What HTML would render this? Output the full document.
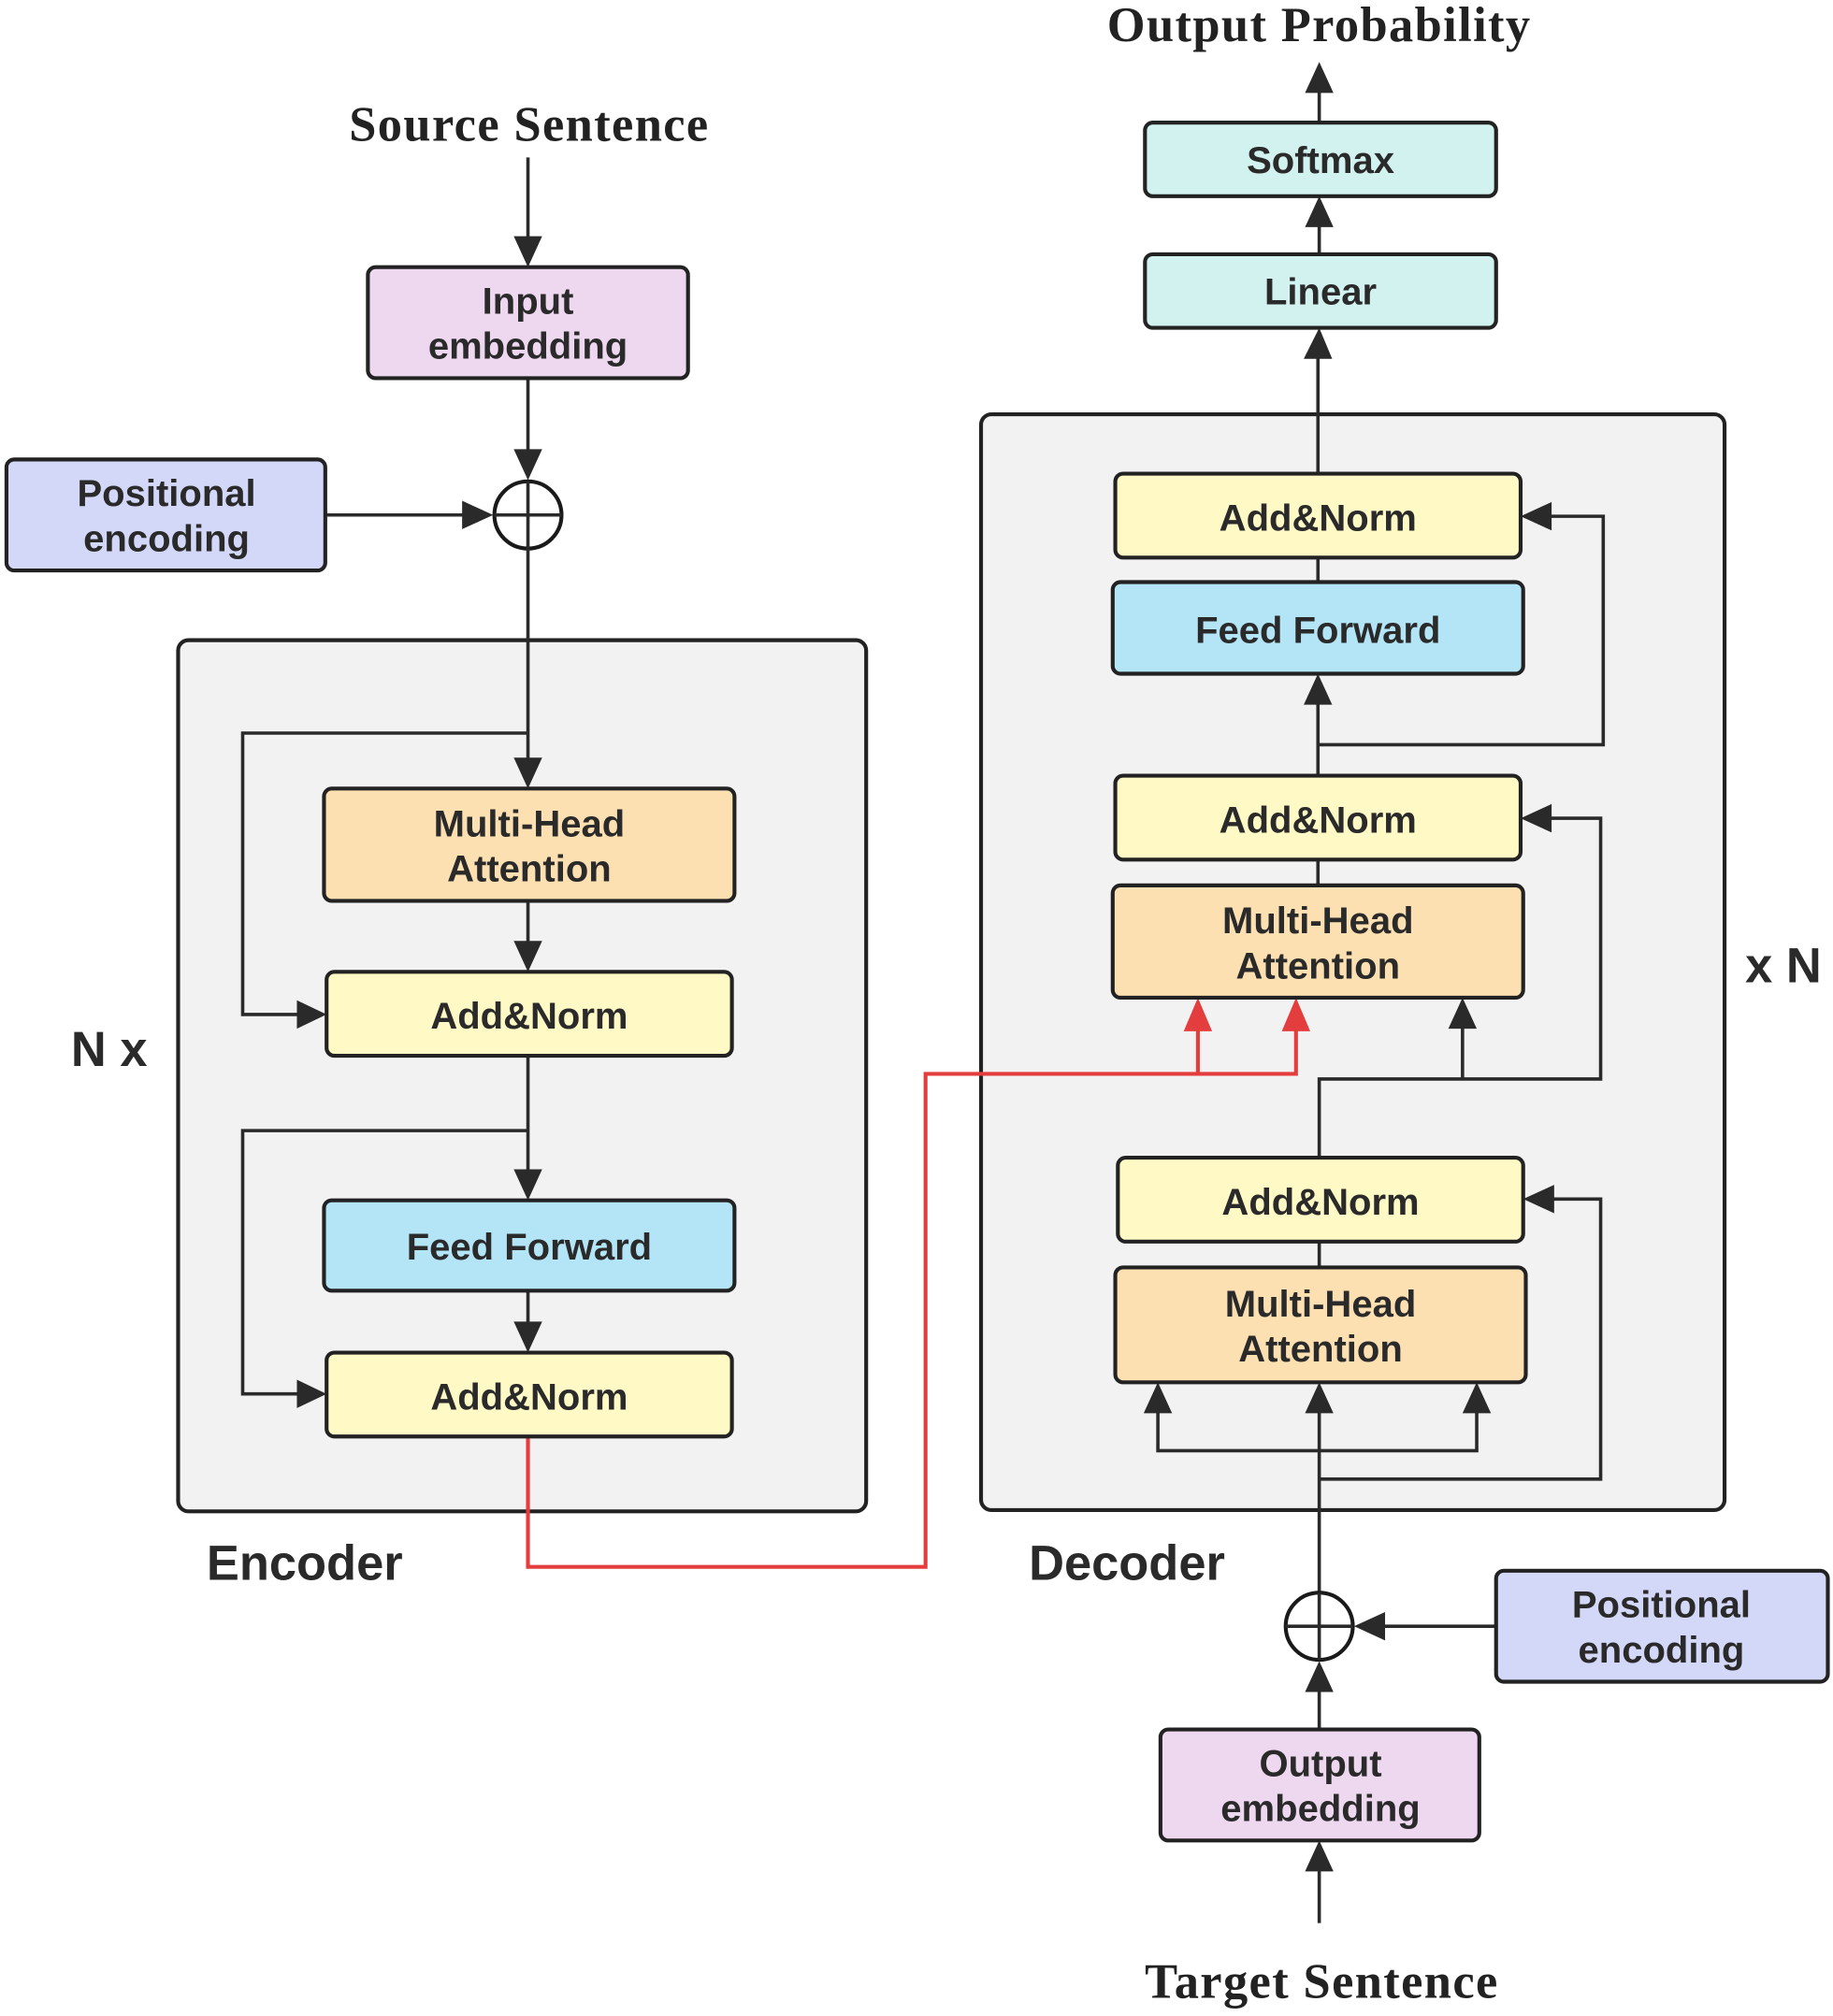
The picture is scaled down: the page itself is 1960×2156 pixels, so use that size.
<!DOCTYPE html>
<html><head><meta charset="utf-8"><style>
html,body{margin:0;padding:0;background:#fff}
svg{display:block}
.b{stroke:#222;stroke-width:3;}
.t{font-family:"Liberation Sans",sans-serif;font-weight:bold;font-size:29px;fill:#2a2a2a;text-anchor:middle}
.s{font-family:"Liberation Serif",serif;font-weight:bold;font-size:38px;letter-spacing:1px;fill:#222;text-anchor:middle}
.l{font-family:"Liberation Sans",sans-serif;font-weight:bold;font-size:38px;fill:#2a2a2a}
.k{fill:none;stroke:#2a2a2a;stroke-width:2.6}
.r{fill:none;stroke:#e43d3d;stroke-width:3}
</style></head><body>
<svg width="1960" height="2156" viewBox="0 0 1420 1562" xmlns="http://www.w3.org/2000/svg">
<rect x="138" y="496" width="533" height="675" rx="8" fill="#f2f2f2" class="b" stroke-width="2.5"/>
<rect x="760" y="321" width="576" height="849" rx="8" fill="#f2f2f2" class="b" stroke-width="2.5"/>

<text x="410" y="109" class="s">Source Sentence</text>
<path class="k" d="M409,122 V185"/><path d="M398,183 L420,183 L409,207 z" fill="#2a2a2a"/>
<path class="k" d="M409,293 V350"/><path d="M398,348 L420,348 L409,372 z" fill="#2a2a2a"/>
<path class="k" d="M252,399 H360"/><path d="M358,388 L358,410 L382,399 z" fill="#2a2a2a"/>
<circle cx="409" cy="399" r="26" fill="none" stroke="#1a1a1a" stroke-width="3"/>
<path class="k" d="M383,399 H435 M409,373 V425"/>
<path class="k" d="M409,425 V590"/><path d="M398,587 L420,587 L409,611 z" fill="#2a2a2a"/>
<path class="k" d="M409,568 H188 V786 H232"/><path d="M230,775 L230,797 L253,786 z" fill="#2a2a2a"/>
<path class="k" d="M409,698 V732"/><path d="M398,729 L420,729 L409,753 z" fill="#2a2a2a"/>
<path class="k" d="M409,818 V908"/><path d="M398,906 L420,906 L409,930 z" fill="#2a2a2a"/>
<path class="k" d="M409,876 H188 V1080 H232"/><path d="M230,1069 L230,1091 L253,1080 z" fill="#2a2a2a"/>
<path class="k" d="M409,1000 V1026"/><path d="M398,1024 L420,1024 L409,1048 z" fill="#2a2a2a"/>

<path class="r" d="M409,1113 V1214 H717 V832 H1004 V795 M928,832 V795"/>
<path d="M917,799 L939,799 L928,773 z" fill="#e43d3d"/>
<path d="M993,799 L1015,799 L1004,773 z" fill="#e43d3d"/>

<rect x="285" y="207" width="248" height="86" rx="6" fill="#eed8f0" class="b"/>
<text x="409" y="243" class="t">Input</text><text x="409" y="278" class="t">embedding</text>
<rect x="5" y="356" width="247" height="86" rx="6" fill="#d4d8f8" class="b"/>
<text x="129" y="392" class="t">Positional</text><text x="129" y="427" class="t">encoding</text>
<rect x="251" y="611" width="318" height="87" rx="6" fill="#fde0b2" class="b"/>
<text x="410" y="648" class="t">Multi-Head</text><text x="410" y="683" class="t">Attention</text>
<rect x="253" y="753" width="314" height="65" rx="6" fill="#fef9c5" class="b"/>
<text x="410" y="797" class="t">Add&amp;Norm</text>
<rect x="251" y="930" width="318" height="70" rx="6" fill="#b3e5f7" class="b"/>
<text x="410" y="976" class="t">Feed Forward</text>
<rect x="253" y="1048" width="314" height="65" rx="6" fill="#fef9c5" class="b"/>
<text x="410" y="1092" class="t">Add&amp;Norm</text>
<text x="55" y="826" class="l">N x</text>
<text x="160" y="1224" class="l">Encoder</text>

<text x="1022" y="32" class="s">Output Probability</text>
<path class="k" d="M1022,95 V70"/><path d="M1011,72 L1033,72 L1022,48 z" fill="#2a2a2a"/>
<path class="k" d="M1022,197 V174"/><path d="M1011,176 L1033,176 L1022,152 z" fill="#2a2a2a"/>
<path class="k" d="M1021,367 V276"/><path d="M1010,278 L1032,278 L1022,254 z" fill="#2a2a2a"/>
<path class="k" d="M1021,432 V451"/>
<path class="k" d="M1021,601 V544"/><path d="M1010,546 L1032,546 L1021,522 z" fill="#2a2a2a"/>
<path class="k" d="M1021,577 H1242 V400 H1200"/><path d="M1202,389 L1202,411 L1178,400 z" fill="#2a2a2a"/>
<path class="k" d="M1021,666 V686"/>
<path class="k" d="M1022,897 V836 H1240 V634 H1200"/><path d="M1202,623 L1202,645 L1178,634 z" fill="#2a2a2a"/>
<path class="k" d="M1133,836 V795"/><path d="M1122,797 L1144,797 L1133,773 z" fill="#2a2a2a"/>
<path class="k" d="M1022,962 V982"/>
<path class="k" d="M897,1093 V1124 H1144 V1093"/>
<path d="M886,1095 L908,1095 L897,1071 z" fill="#2a2a2a"/>
<path d="M1133,1095 L1155,1095 L1144,1071 z" fill="#2a2a2a"/>
<path class="k" d="M1022,1233 V1093"/><path d="M1011,1095 L1033,1095 L1022,1071 z" fill="#2a2a2a"/>
<path class="k" d="M1022,1146 H1240 V929 H1202"/><path d="M1204,918 L1204,940 L1180,929 z" fill="#2a2a2a"/>
<circle cx="1022" cy="1260" r="26" fill="none" stroke="#1a1a1a" stroke-width="3"/>
<path class="k" d="M996,1260 H1048 M1022,1234 V1286"/>
<path class="k" d="M1159,1260 H1071"/><path d="M1073,1249 L1073,1271 L1049,1260 z" fill="#2a2a2a"/>
<path class="k" d="M1022,1340 V1309"/><path d="M1011,1311 L1033,1311 L1022,1287 z" fill="#2a2a2a"/>
<path class="k" d="M1022,1490 V1448"/><path d="M1011,1450 L1033,1450 L1022,1426 z" fill="#2a2a2a"/>

<rect x="887" y="95" width="272" height="57" rx="6" fill="#d2f2f0" class="b"/>
<text x="1023" y="134" class="t">Softmax</text>
<rect x="887" y="197" width="272" height="57" rx="6" fill="#d2f2f0" class="b"/>
<text x="1023" y="236" class="t">Linear</text>
<rect x="864" y="367" width="314" height="65" rx="6" fill="#fef9c5" class="b"/>
<text x="1021" y="411" class="t">Add&amp;Norm</text>
<rect x="862" y="451" width="318" height="71" rx="6" fill="#b3e5f7" class="b"/>
<text x="1021" y="498" class="t">Feed Forward</text>
<rect x="864" y="601" width="314" height="65" rx="6" fill="#fef9c5" class="b"/>
<text x="1021" y="645" class="t">Add&amp;Norm</text>
<rect x="862" y="686" width="318" height="87" rx="6" fill="#fde0b2" class="b"/>
<text x="1021" y="723" class="t">Multi-Head</text><text x="1021" y="758" class="t">Attention</text>
<rect x="866" y="897" width="314" height="65" rx="6" fill="#fef9c5" class="b"/>
<text x="1023" y="941" class="t">Add&amp;Norm</text>
<rect x="864" y="982" width="318" height="89" rx="6" fill="#fde0b2" class="b"/>
<text x="1023" y="1020" class="t">Multi-Head</text><text x="1023" y="1055" class="t">Attention</text>
<rect x="1159" y="1217" width="257" height="86" rx="6" fill="#d4d8f8" class="b"/>
<text x="1287" y="1253" class="t">Positional</text><text x="1287" y="1288" class="t">encoding</text>
<rect x="899" y="1340" width="247" height="86" rx="6" fill="#eed8f0" class="b"/>
<text x="1023" y="1376" class="t">Output</text><text x="1023" y="1411" class="t">embedding</text>
<text x="1352" y="761" class="l">x N</text>
<text x="797" y="1224" class="l">Decoder</text>
<text x="1024" y="1548" class="s">Target Sentence</text>
</svg>
</body></html>
